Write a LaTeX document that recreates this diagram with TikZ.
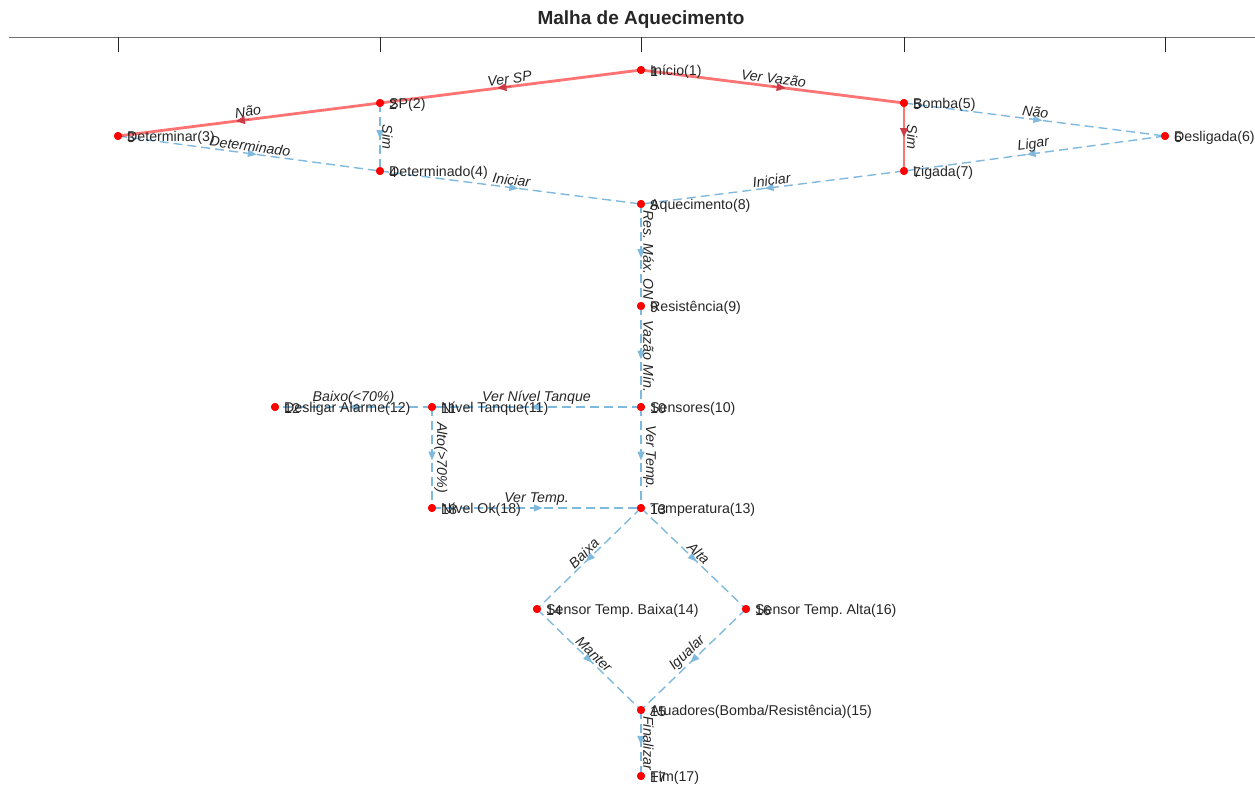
\documentclass[tikz,border=0pt]{standalone}
\usepackage{fontspec}
\setmainfont{Liberation Sans}
\frenchspacing
\usetikzlibrary{arrows.meta,decorations.markings}
\definecolor{eblue}{RGB}{128,185,222}
\definecolor{txt}{RGB}{38,38,38}
\definecolor{axgray}{RGB}{110,110,110}
\definecolor{darkred}{RGB}{205,60,70}
\tikzset{
  dot/.style={circle,fill=red,inner sep=0pt,minimum size=8pt},
  nlab/.style={anchor=west,inner sep=0pt,text=txt,font=\fontsize{14.2}{17}\selectfont,xshift=9pt,yshift=-1.5pt},
  elab/.style={sloped,above,inner sep=1.5pt,text=txt,font=\fontsize{14.2}{17}\selectfont\itshape},
  midarrow/.style={postaction={decorate},decoration={markings,mark=at position 0.53 with {\arrow{Triangle[length=9pt,width=7pt]}}}},
  bedge/.style={draw=eblue,line width=1.4pt,dash pattern=on 9pt off 5pt,midarrow},
  redge/.style={draw=red,draw opacity=0.55,line width=2.8pt},
  rtip/.style={draw=darkred,line width=1pt,-{Triangle[length=9pt,width=8pt]}},
}
\begin{document}
\begin{tikzpicture}[x=1pt,y=1pt]
\useasboundingbox (0,0) rectangle (1255,-785);
% title and axis
\node[font=\fontsize{19}{22}\selectfont\bfseries,text=txt] (title) at (641,-20) {Malha de Aquecimento};
\draw[axgray,line width=1pt] (9,-37) -- (1255,-37);
\foreach \tx in {118,380,641,904,1165}{
  \draw[txt,line width=1pt] (\tx,-37) -- (\tx,-52);
}
% node positions
\node[dot] (n1) at (641,-70) {};
\node[dot] (n2) at (380,-103) {};
\node[dot] (n3) at (118,-136) {};
\node[dot] (n4) at (380,-171) {};
\node[dot] (n5) at (904,-103) {};
\node[dot] (n6) at (1165,-136) {};
\node[dot] (n7) at (904,-171) {};
\node[dot] (n8) at (641,-204) {};
\node[dot] (n9) at (641,-306) {};
\node[dot] (n10) at (641,-407) {};
\node[dot] (n11) at (432,-407) {};
\node[dot] (n12) at (275,-407) {};
\node[dot] (n13) at (641,-508) {};
\node[dot] (n14) at (537,-609) {};
\node[dot] (n15) at (641,-710) {};
\node[dot] (n16) at (746,-609) {};
\node[dot] (n17) at (641,-776) {};
\node[dot] (n18) at (432,-508) {};
% blue edges
\draw[bedge] (n2.center) -- node[elab] (e24) {Sim} (n4.center);
\draw[bedge] (n3.center) -- node[elab] (e34) {Determinado} (n4.center);
\draw[bedge] (n4.center) -- node[elab] (e48) {Iniciar} (n8.center);
\draw[bedge] (n7.center) -- node[elab] (e78) {Iniciar} (n8.center);
\draw[bedge] (n5.center) -- node[elab] (e56) {Não} (n6.center);
\draw[bedge] (n6.center) -- node[elab] (e67) {Ligar} (n7.center);
\draw[bedge] (n8.center) -- node[elab] (e89) {Res. Máx. ON} (n9.center);
\draw[bedge] (n9.center) -- node[elab] (e910) {Vazão Mín.} (n10.center);
\draw[bedge] (n10.center) -- node[elab] (e1011) {Ver Nível Tanque} (n11.center);
\draw[bedge] (n11.center) -- node[elab] (e1112) {Baixo(<70\%)} (n12.center);
\draw[bedge] (n11.center) -- node[elab] (e1118) {Alto(>70\%)} (n18.center);
\draw[bedge] (n10.center) -- node[elab] (e1013) {Ver Temp.} (n13.center);
\draw[bedge] (n18.center) -- node[elab] (e1813) {Ver Temp.} (n13.center);
\draw[bedge] (n13.center) -- node[elab] (e1314) {Baixa} (n14.center);
\draw[bedge] (n13.center) -- node[elab] (e1316) {Alta} (n16.center);
\draw[bedge] (n14.center) -- node[elab] (e1415) {Manter} (n15.center);
\draw[bedge] (n16.center) -- node[elab] (e1615) {Igualar} (n15.center);
\draw[bedge] (n15.center) -- node[elab] (e1517) {Finalizar} (n17.center);
% red edges
\draw[redge] (n1.center) -- node[elab] (e12) {Ver SP} coordinate[pos=0.5] (a12s) coordinate[pos=0.55] (a12e) (n2.center);
\draw[redge] (n2.center) -- node[elab] (e23) {Não} coordinate[pos=0.5] (a23s) coordinate[pos=0.55] (a23e) (n3.center);
\draw[redge] (n1.center) -- node[elab] (e15) {Ver Vazão} coordinate[pos=0.5] (a15s) coordinate[pos=0.55] (a15e) (n5.center);
\draw[redge] (n5.center) -- node[elab] (e57) {Sim} coordinate[pos=0.4] (a57s) coordinate[pos=0.5] (a57e) (n7.center);
\draw[rtip] (a12s) -- (a12e);
\draw[rtip] (a23s) -- (a23e);
\draw[rtip] (a15s) -- (a15e);
\draw[rtip] (a57s) -- (a57e);
% redraw dots on top
\foreach \i in {1,...,18}{ \fill[red] (n\i.center) circle (4pt); }
% node labels (number and name overlapping)
\foreach \i/\name in {1/{Início(1)},2/{SP(2)},3/{Determinar(3)},4/{Determinado(4)},5/{Bomba(5)},6/{Desligada(6)},7/{Ligada(7)},8/{Aquecimento(8)},9/{Resistência(9)},10/{Sensores(10)},11/{Nível Tanque(11)},12/{Desligar Alarme(12)},13/{Temperatura(13)},14/{Sensor Temp. Baixa(14)},15/{Atuadores(Bomba/Resistência)(15)},16/{Sensor Temp. Alta(16)},17/{Fim(17)},18/{Nível Ok(18)}}{
  \node[nlab] (k\i) at (n\i.center) {\i};
  \node[nlab] (t\i) at (n\i.center) {\name};
}
\end{tikzpicture}
\end{document}
